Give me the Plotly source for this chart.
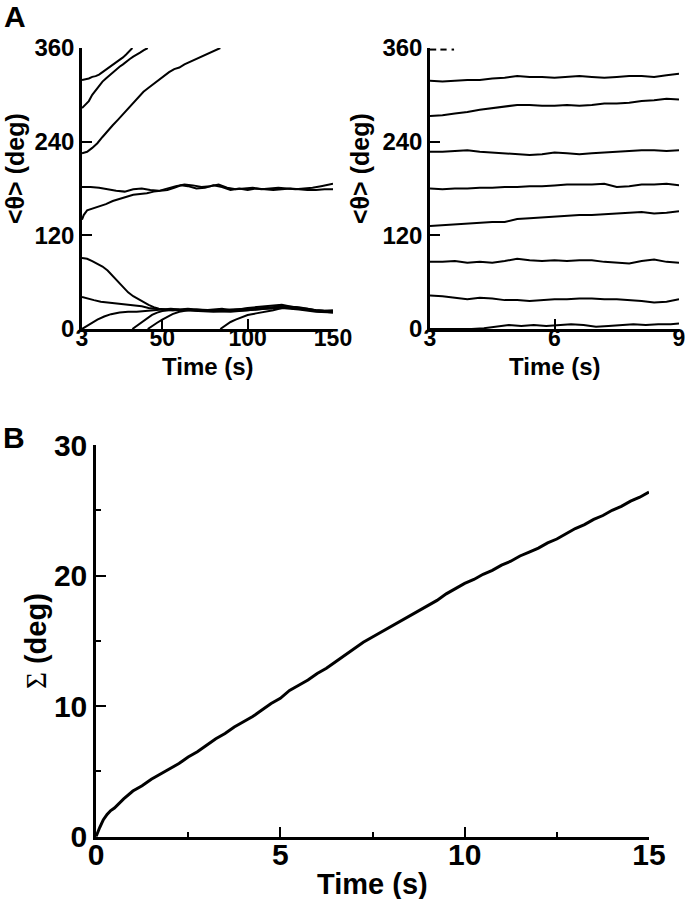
import plotly.graph_objects as go

# ---------------- Panel A (left): <theta> vs time, 3-150 s ----------------
L1_t = [3, 5, 7, 9, 11, 13, 15, 17, 19, 21, 23, 25, 27, 29, 31, 32.5]
L1_y = [319, 320, 321, 323, 324, 326, 329, 332, 335, 338, 341, 345, 348, 352, 356, 360]

L2_t = [3, 5, 7, 9, 11, 13, 15, 17, 19, 21, 23, 25, 27, 29, 31, 33, 35, 37, 39, 41.5]
L2_y = [283, 287, 292, 300, 306, 312, 317, 321, 325, 329, 333, 336, 339, 343, 346, 349, 351, 354, 357, 360]

L3_t = [3, 6, 9, 12, 15, 18, 21, 24, 27, 30, 33, 36, 39, 42, 45, 48, 51, 54, 57, 60, 63, 66, 69, 72, 75, 78, 81, 84]
L3_y = [225, 227, 232, 238, 246, 254, 261, 268, 275, 283, 290, 297, 304, 309, 314, 320, 325, 329, 333, 335, 339, 342, 345, 348, 352, 354, 357, 360]

L4_t = [3, 8, 13, 18, 23, 28, 33, 38, 43, 48, 53, 58, 63, 68, 73, 78, 83, 88, 93, 98, 103, 108, 113, 118, 123, 128, 133, 138, 143, 148, 150]
L4_y = [182, 182, 181, 179, 177, 176, 179, 180, 178, 177, 180, 183, 185, 184, 182, 183, 185, 181, 179, 180, 181, 179, 180, 181, 180, 179, 180, 181, 183, 185, 186]

L5_t = [3, 4, 6, 9, 13, 17, 21, 25, 29, 33, 37, 41, 45, 49, 53, 57, 61, 65, 70, 75, 80, 85, 90, 95, 100, 105, 110, 115, 120, 125, 130, 135, 140, 145, 150]
L5_y = [140, 146, 152, 154, 157, 160, 164, 167, 170, 172, 173, 174, 176, 177, 178, 181, 184, 183, 180, 181, 184, 182, 178, 180, 178, 180, 179, 178, 179, 180, 179, 178, 178, 179, 179]

L6_t = [3, 6, 9, 12, 15, 18, 21, 24, 27, 30, 33, 36, 39, 42, 45, 48, 52, 56, 60, 65, 70, 75, 80, 85, 90, 95, 100, 105, 110, 115, 120, 125, 130, 135, 140, 145, 150]
L6_y = [91, 90, 87, 84, 80, 75, 68, 60, 53, 47, 42, 38, 35, 31, 28, 26, 25, 24, 25, 26, 25, 24, 25, 26, 24, 25, 27, 28, 29, 30, 31, 29, 27, 26, 24, 23, 24]

L7_t = [3, 6, 10, 14, 18, 22, 26, 30, 34, 38, 42, 46, 50, 55, 60, 65, 70, 80, 90, 100, 110, 120, 130, 140, 150]
L7_y = [41, 39, 37, 35, 34, 33, 32, 31, 30, 29, 27, 26, 25, 24, 24, 25, 24, 23, 24, 25, 27, 29, 28, 24, 22]

L8_t = [3, 6, 9, 12, 16, 20, 25, 30, 35, 40, 45, 50, 55, 60, 70, 80, 90, 100, 110, 120, 130, 140, 150]
L8_y = [0, 4, 8, 12, 16, 19, 21, 22, 22, 23, 24, 25, 26, 25, 24, 23, 22, 24, 26, 28, 26, 23, 21]

L9_t = [32.5, 35, 38, 41, 44, 47, 50, 54, 58, 62, 70, 80, 90, 100, 110, 120, 130, 140, 150]
L9_y = [0, 4, 9, 14, 18, 21, 23, 24, 25, 24, 23, 22, 23, 24, 26, 27, 25, 22, 21]

L10_t = [41.5, 44, 47, 50, 53, 56, 60, 65, 70, 80, 90, 100, 110, 120, 130, 140, 150]
L10_y = [0, 4, 8, 12, 16, 19, 22, 24, 25, 24, 25, 26, 27, 28, 26, 24, 23]

L11_t = [84, 87, 90, 93, 96, 100, 105, 110, 115, 120, 125, 130, 135, 140, 145, 150]
L11_y = [0, 5, 9, 12, 15, 18, 20, 22, 24, 27, 28, 27, 25, 23, 22, 22]

left_series = [(L1_t, L1_y), (L2_t, L2_y), (L3_t, L3_y), (L4_t, L4_y), (L5_t, L5_y),
               (L6_t, L6_y), (L7_t, L7_y), (L8_t, L8_y), (L9_t, L9_y), (L10_t, L10_y),
               (L11_t, L11_y)]

# ---------------- Panel A (right): <theta> vs time, 3-9 s ----------------
R_t = [3, 3.3, 3.6, 3.9, 4.2, 4.5, 4.8, 5.1, 5.4, 5.7, 6.0, 6.3, 6.6, 6.9, 7.2, 7.5, 7.8, 8.1, 8.4, 8.7, 9.0]
R1_y = [318, 317, 318, 319, 319, 321, 322, 324, 323, 323, 322, 323, 324, 323, 322, 323, 324, 324, 323, 325, 327]
R2_y = [273, 274, 276, 278, 281, 283, 285, 287, 287, 286, 286, 287, 286, 287, 289, 289, 290, 292, 293, 295, 294]
R3_y = [227, 227, 228, 229, 227, 226, 225, 224, 223, 224, 226, 225, 224, 225, 226, 227, 228, 229, 229, 228, 229]
R4_y = [180, 179, 180, 180, 181, 181, 182, 182, 183, 183, 184, 185, 185, 185, 186, 182, 183, 185, 185, 186, 184]
R5_y = [132, 133, 134, 135, 136, 137, 137, 141, 142, 143, 144, 145, 146, 146, 147, 148, 149, 150, 148, 149, 151]
R6_y = [86, 86, 87, 85, 86, 85, 87, 90, 88, 87, 88, 87, 88, 88, 86, 85, 84, 87, 89, 86, 85]
R7_y = [43, 42, 40, 38, 40, 39, 37, 37, 36, 37, 38, 38, 39, 39, 38, 38, 37, 36, 34, 35, 38]

R8_t = [3, 3.5, 4.0, 4.3, 4.6, 4.9, 5.2, 5.5, 5.8, 6.1, 6.4, 6.7, 7.0, 7.3, 7.6, 7.9, 8.2, 8.5, 8.8, 9.0]
R8_y = [0, 0, 0, 1, 3, 5, 4, 5, 4, 5, 6, 5, 3, 4, 5, 6, 5, 6, 6, 7]

R0_t = [3.0, 3.15, None, 3.25, 3.4, None, 3.52, 3.58]
R0_y = [358, 358, None, 358, 358, None, 358, 358]

right_series = [(R_t, R1_y), (R_t, R2_y), (R_t, R3_y), (R_t, R4_y), (R_t, R5_y),
                (R_t, R6_y), (R_t, R7_y), (R8_t, R8_y), (R0_t, R0_y)]

# ---------------- Panel B: Sigma vs time ----------------
B_t = [0, 0.05, 0.1, 0.15, 0.2, 0.3, 0.4, 0.5, 0.75, 1.0, 1.25, 1.5, 1.75, 2.0, 2.25, 2.5, 2.75,
       3.0, 3.25, 3.5, 3.75, 4.0, 4.25, 4.5, 4.75, 5.0, 5.25, 5.5, 5.75, 6.0, 6.25, 6.5, 6.75,
       7.0, 7.25, 7.5, 7.75, 8.0, 8.25, 8.5, 8.75, 9.0, 9.25, 9.5, 9.75, 10.0, 10.25, 10.5,
       10.75, 11.0, 11.25, 11.5, 11.75, 12.0, 12.25, 12.5, 12.75, 13.0, 13.25, 13.5, 13.75,
       14.0, 14.25, 14.5, 14.75, 15.0]
B_y = [0.0, 0.4, 0.7, 1.0, 1.3, 1.7, 2.0, 2.2, 2.9, 3.5, 3.9, 4.4, 4.8, 5.2, 5.6, 6.1, 6.5,
       7.0, 7.5, 7.9, 8.4, 8.8, 9.2, 9.7, 10.2, 10.6, 11.2, 11.6, 12.0, 12.5, 12.9, 13.4, 13.9,
       14.4, 14.9, 15.3, 15.7, 16.1, 16.5, 16.9, 17.3, 17.7, 18.1, 18.6, 19.0, 19.4, 19.7, 20.1,
       20.4, 20.8, 21.1, 21.5, 21.8, 22.1, 22.5, 22.8, 23.2, 23.6, 23.9, 24.3, 24.6,
       25.0, 25.3, 25.7, 26.0, 26.4]

FONT = "Liberation Sans, Arial, Helvetica, sans-serif"

fig = go.Figure()
for t, y in left_series:
    fig.add_trace(go.Scatter(x=t, y=y, mode="lines", xaxis="x", yaxis="y",
                             line=dict(color="black", width=2), showlegend=False,
                             connectgaps=False))
for t, y in right_series:
    fig.add_trace(go.Scatter(x=t, y=y, mode="lines", xaxis="x2", yaxis="y2",
                             line=dict(color="black", width=2), showlegend=False,
                             connectgaps=False))
fig.add_trace(go.Scatter(x=B_t, y=B_y, mode="lines", xaxis="x3", yaxis="y3",
                         line=dict(color="black", width=3), showlegend=False))

def ax(domain, rng, tickvals, anchor, size, standoff=0, minor=None):
    d = dict(domain=domain, range=rng, tickvals=tickvals, anchor=anchor, automargin=False,
             showline=True, linecolor="black", linewidth=2.5, ticks="inside",
             ticklen=10, tickwidth=2, tickcolor="black", showgrid=False, zeroline=False,
             tickfont=dict(family=FONT, size=size, color="black", weight="bold"),
             ticklabelstandoff=standoff, ticklabeloverflow="allow", fixedrange=True)
    if minor is not None:
        d["minor"] = dict(tickvals=minor, ticks="inside", ticklen=5, tickwidth=2,
                          tickcolor="black", showgrid=False)
    return d

top_y = [1 - 329 / 899, 1 - 48 / 899]
fig.update_layout(
    width=685, height=899, margin=dict(l=0, r=0, t=0, b=0, autoexpand=False),
    paper_bgcolor="white", plot_bgcolor="white",
    xaxis=ax([82 / 685, 333 / 685], [3, 150], [3, 50, 100, 150], "y", 23, standoff=-13),
    yaxis=ax(top_y, [0, 360], [0, 120, 240, 360], "x", 24),
    xaxis2=ax([430 / 685, 679 / 685], [3, 9], [3, 6, 9], "y2", 23, standoff=-13),
    yaxis2=ax(top_y, [0, 360], [0, 120, 240, 360], "x2", 24),
    xaxis3=ax([96 / 685, 649 / 685], [0, 15], [0, 5, 10, 15], "y3", 30, standoff=-10,
              minor=[2.5, 7.5, 12.5]),
    yaxis3=ax([1 - 836.7 / 899, 1 - 445 / 899], [0, 30], [0, 10, 20, 30], "x3", 30,
              minor=[5, 15, 25]),
)

def ann(text, x, y, size, angle=0):
    fig.add_annotation(text=text, x=x, y=y, xref="paper", yref="paper", showarrow=False,
                       xanchor="center", yanchor="middle", textangle=angle,
                       font=dict(family=FONT, size=size, color="black", weight="bold"))

ann("A", 15 / 685, 1 - 16 / 899, 30)
ann("B", 14 / 685, 1 - 437 / 899, 30)
ann("Time (s)", 207.5 / 685, 1 - 366 / 899, 24)
ann("Time (s)", 554.5 / 685, 1 - 366 / 899, 24)
ann("&lt;θ&gt; (deg)", 15 / 685, 1 - 169 / 899, 25, -90)
ann("&lt;θ&gt; (deg)", 360 / 685, 1 - 169 / 899, 25, -90)
ann("Time (s)", 372.5 / 685, 1 - 884 / 899, 29)
ann("<span style='font-family:Liberation Serif;font-weight:normal;fill:black'>Σ</span> (deg)",
    36 / 685, 1 - 641 / 899, 29, -90)

fig.write_html("out.html", config={"displayModeBar": False},
               post_script="document.body.style.margin='0';")
